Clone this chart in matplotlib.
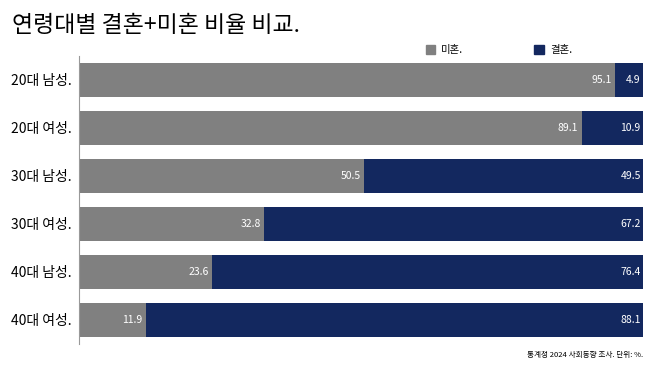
import numpy as np
import matplotlib.pyplot as plt
from matplotlib.patches import Patch

plt.rcParams['font.family'] = ['Noto Sans CJK KR', 'DejaVu Sans']

groups = ['20대 남성.', '20대 여성.', '30대 남성.', '30대 여성.', '40대 남성.', '40대 여성.']
single = [95.1, 89.1, 50.5, 32.8, 23.6, 11.9]
married = [4.9, 10.9, 49.5, 67.2, 76.4, 88.1]

gray = '#808080'
navy = '#13285f'

fig = plt.figure(figsize=(6.58, 3.70), dpi=100)
ax = fig.add_axes([79 / 658, 1 - 344 / 370, 564 / 658, 288 / 370])

y = np.arange(len(groups))
ax.barh(y, single, height=0.7, color=gray)
ax.barh(y, married, left=single, height=0.7, color=navy)

for i in range(len(groups)):
    ax.text(single[i] - 0.6, y[i], f'{single[i]:.1f}', color='white',
            ha='right', va='center', fontsize=7.5)
    ax.text(99.6, y[i], f'{married[i]:.1f}', color='white',
            ha='right', va='center', fontsize=7.5)

ax.set_xlim(0, 100)
ax.set_ylim(len(groups) - 0.5, -0.5)
ax.set_yticks(y)
ax.set_yticklabels(groups, fontsize=10)
ax.set_xticks([])
ax.tick_params(axis='y', length=0, pad=5)
for s in ['top', 'right', 'bottom']:
    ax.spines[s].set_visible(False)
ax.spines['left'].set_color('#999999')
ax.spines['left'].set_linewidth(0.8)

fig.text(12 / 658, 1 - 26 / 370, '연령대별 결혼+미혼 비율 비교.', fontsize=16.5,
         va='center', ha='left')

handles = [Patch(color=gray, label='미혼.'), Patch(color=navy, label='결혼.')]
fig.legend(handles=handles, loc='center', bbox_to_anchor=(499 / 658, 1 - 50 / 370),
           ncol=2, frameon=False, fontsize=7.5, columnspacing=6.8,
           handlelength=0.9, handleheight=0.9, handletextpad=0.6)

fig.text(643 / 658, 1 - 355 / 370, '통계청 2024 사회동향 조사. 단위: %.', fontsize=5.5,
         ha='right', va='center')

fig.savefig('out.png', dpi=100)
